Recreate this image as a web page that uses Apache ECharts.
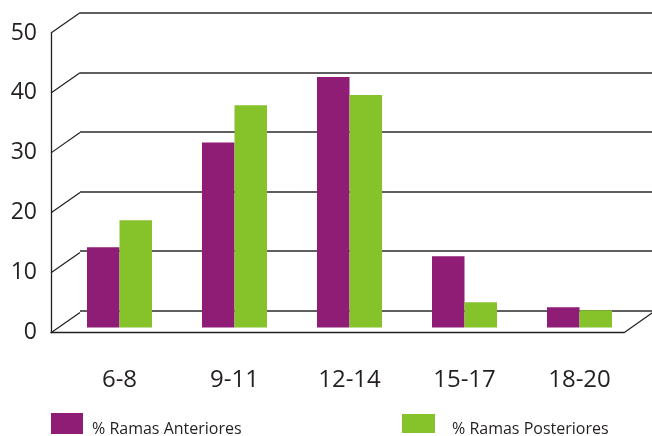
<!DOCTYPE html>
<html><head><meta charset="utf-8">
<script src="https://cdn.jsdelivr.net/npm/echarts@6/dist/echarts.min.js"></script>
<style>html,body{margin:0;padding:0;background:#fff}#c{width:652px;height:436px}</style>
</head><body><div id="c"></div>
<script>
const categories = ['6-8', '9-11', '12-14', '15-17', '18-20'];
const anteriores = [13.4, 30.9, 41.8, 11.9, 3.4];
const posteriores = [17.9, 37.1, 38.8, 4.2, 2.9];
const yTicks = [0, 10, 20, 30, 40, 50];
const seriesNames = ['% Ramas Anteriores', '% Ramas Posteriores'];

const FONT = 'Open Sans';
const INK = '#231f20';
const DEPTH_DX = 29, DEPTH_DY = -20.3;

const diagData = yTicks.map(v => [0, v]).concat([[1, 0]]);

function legendText(padLeft) {
  return {
    fontSize: 16, fontFamily: FONT, color: INK,
    rich: {t: {fontSize: 16, fontFamily: FONT, color: INK, padding: [12, 0, 0, padLeft]}}
  };
}

const chart = echarts.init(document.getElementById('c'), null, {renderer: 'canvas'});
chart.setOption({
  animation: false,
  backgroundColor: '#ffffff',
  grid: [
    {left: 80, right: -2, top: 12.7, height: 298, containLabel: false},
    {left: 51, width: 573, top: 33, height: 299.7, containLabel: false},
    {left: 62, width: 575, top: 28, height: 299.5, containLabel: false}
  ],
  xAxis: [
    {gridIndex: 0, type: 'value', min: 0, max: 1, show: false},
    {gridIndex: 1, type: 'value', min: 0, max: 1,
      axisLine: {show: true, onZero: false, lineStyle: {color: INK, width: 1.3}},
      axisTick: {show: false}, axisLabel: {show: false}, splitLine: {show: false}},
    {gridIndex: 2, type: 'category', data: categories,
      axisLine: {show: false}, axisTick: {show: false}, splitLine: {show: false},
      axisLabel: {margin: 41, fontSize: 24, fontFamily: FONT, color: INK}}
  ],
  yAxis: [
    {gridIndex: 0, type: 'value', min: 0, max: 50, interval: 10,
      axisLine: {show: false}, axisTick: {show: false}, axisLabel: {show: false},
      splitLine: {show: true, lineStyle: {color: '#2a2a2a', width: 1.5}}},
    {gridIndex: 1, type: 'value', min: 0, max: 50, interval: 10,
      axisLine: {show: true, lineStyle: {color: INK, width: 1.3}},
      axisTick: {show: false}, splitLine: {show: false},
      axisLabel: {margin: 14, fontSize: 23, fontFamily: FONT, color: INK}},
    {gridIndex: 2, type: 'value', min: 0, max: 50, interval: 10, show: false}
  ],
  legend: [
    {data: [seriesNames[0]], left: 51, top: 413, padding: 0, itemWidth: 32, itemHeight: 21,
      formatter: n => '{t|' + n + '}', textStyle: legendText(4), icon: 'rect'},
    {data: [seriesNames[1]], left: 402, top: 414, padding: 0, itemWidth: 33, itemHeight: 19,
      formatter: n => '{t|' + n + '}', textStyle: legendText(12), icon: 'rect'}
  ],
  series: [
    {type: 'custom', xAxisIndex: 1, yAxisIndex: 1, data: diagData, silent: true, z: 1,
      renderItem: function (params, api) {
        const p = api.coord([api.value(0), api.value(1)]);
        return {type: 'line', shape: {x1: p[0], y1: p[1], x2: p[0] + DEPTH_DX, y2: p[1] + DEPTH_DY},
          style: {stroke: INK, lineWidth: 1.2}};
      }},
    {name: seriesNames[0], type: 'bar', xAxisIndex: 2, yAxisIndex: 2, data: anteriores,
      barWidth: 32.5, barGap: '0%', itemStyle: {color: '#8f1d76'}, z: 3},
    {name: seriesNames[1], type: 'bar', xAxisIndex: 2, yAxisIndex: 2, data: posteriores,
      barWidth: 32.5, barGap: '0%', itemStyle: {color: '#86c22a'}, z: 3}
  ]
});
</script></body></html>
